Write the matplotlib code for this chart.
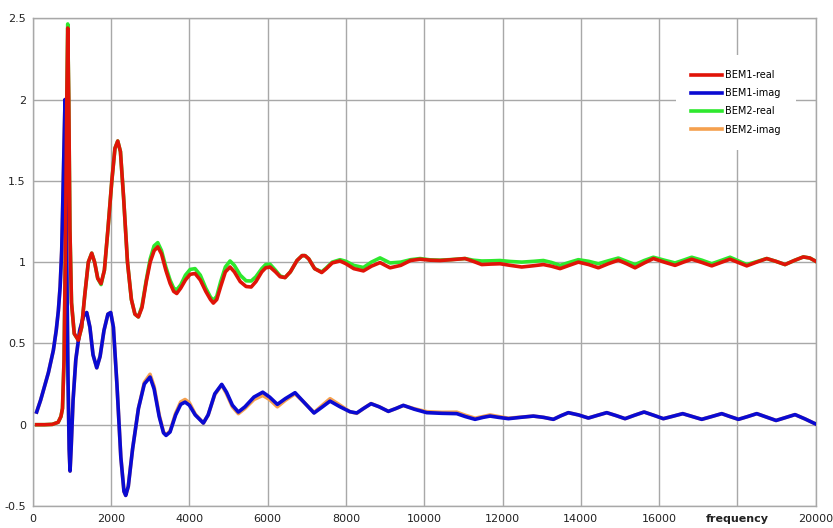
import matplotlib.pyplot as plt

# frequency grid + values (real parts)
freq_real = [100, 300, 500, 650, 720, 760, 800, 840, 870, 894, 920, 950, 990, 1060, 1165,
             1250, 1330, 1420, 1507, 1580, 1660, 1745, 1830, 1920, 2020, 2100, 2171, 2240,
             2320, 2420, 2520, 2610, 2698, 2790, 2900, 3000, 3100, 3193, 3290, 3400, 3507,
             3600, 3678, 3780, 3900, 4020, 4146, 4280, 4420, 4540, 4613, 4700, 4800, 4920,
             5040, 5150, 5300, 5450, 5580, 5700, 5850, 5950, 6061, 6200, 6320, 6444, 6580,
             6750, 6880, 6955, 7050, 7200, 7381, 7500, 7650, 7849, 8000, 8200, 8446, 8650,
             8871, 9126, 9400, 9650, 9893, 10150, 10404, 10700, 11042, 11250, 11468, 11700,
             11936, 12200, 12490, 12800, 13043, 13250, 13469, 13700, 13936, 14200, 14447,
             14700, 14958, 15170, 15384, 15620, 15852, 16130, 16406, 16620, 16832, 17090,
             17343, 17580, 17811, 18020, 18237, 18490, 18748, 18980, 19215, 19450, 19683,
             19850, 20000]
bem1_real = [0.0, 0.0, 0.002, 0.015, 0.05, 0.1, 0.4, 1.2, 2.0, 2.44, 2.0, 1.2, 0.75, 0.56, 0.52,
             0.6, 0.8, 1.0, 1.055, 1.0, 0.9, 0.868, 0.95, 1.2, 1.5, 1.7, 1.745, 1.68,
             1.4, 1.0, 0.77, 0.68, 0.663, 0.72, 0.88, 1.0, 1.07, 1.094, 1.05, 0.95, 0.87,
             0.82, 0.807, 0.84, 0.89, 0.925, 0.93, 0.89, 0.82, 0.77, 0.748, 0.77, 0.85, 0.94,
             0.97, 0.94, 0.88, 0.85, 0.847, 0.88, 0.94, 0.965, 0.97, 0.94, 0.91, 0.905, 0.94,
             1.01, 1.04, 1.04, 1.02, 0.96, 0.936, 0.96, 0.995, 1.007, 0.99, 0.96, 0.946, 0.975,
             0.997, 0.965, 0.98, 1.01, 1.018, 1.012, 1.01, 1.015, 1.022, 1.005, 0.985, 0.988,
             0.99, 0.98, 0.97, 0.978, 0.985, 0.975, 0.96, 0.98, 1.0, 0.985, 0.965,
             0.99, 1.012, 0.99, 0.965, 0.995, 1.022, 1.0, 0.98, 1.0, 1.018, 0.998,
             0.977, 0.998, 1.018, 0.998, 0.977, 1.0, 1.022, 1.005, 0.985, 1.01, 1.032,
             1.025, 1.005]
bem2_real = [0.0, 0.0, 0.002, 0.015, 0.05, 0.1, 0.4, 1.2, 2.0, 2.465, 2.0, 1.2, 0.75, 0.56, 0.52,
             0.6, 0.8, 1.0, 1.055, 1.0, 0.9, 0.862, 0.95, 1.2, 1.5, 1.7, 1.745, 1.68,
             1.4, 1.0, 0.77, 0.68, 0.663, 0.73, 0.89, 1.02, 1.1, 1.12, 1.07, 0.97, 0.89,
             0.84, 0.83, 0.86, 0.92, 0.955, 0.96, 0.92, 0.84, 0.785, 0.765, 0.79, 0.88, 0.97,
             1.007, 0.98, 0.92, 0.885, 0.884, 0.91, 0.96, 0.985, 0.987, 0.95, 0.915, 0.905, 0.94,
             1.01, 1.04, 1.04, 1.02, 0.96, 0.94, 0.965, 1.0, 1.015, 1.005, 0.98, 0.967, 1.0,
             1.026, 0.995, 1.0, 1.015, 1.022, 1.014, 1.012, 1.016, 1.022, 1.012, 1.007, 1.008,
             1.01, 1.004, 1.0, 1.005, 1.01, 0.998, 0.98, 0.998, 1.015, 1.005, 0.99,
             1.008, 1.025, 1.005, 0.985, 1.01, 1.03, 1.012, 0.995, 1.012, 1.03, 1.012,
             0.99, 1.01, 1.03, 1.008, 0.985, 1.003, 1.022, 1.005, 0.985, 1.01, 1.032,
             1.025, 1.005]

# imaginary parts
freq_imag = [100, 200, 271, 400, 526, 600, 654, 700, 740, 780, 825, 860, 900, 930, 953, 980,
             1030, 1100, 1200, 1300, 1379, 1460, 1540, 1635, 1720, 1820, 1920, 1992, 2060,
             2150, 2250, 2330, 2375, 2440, 2550, 2700, 2850, 2996, 3100, 3230, 3340, 3405,
             3507, 3650, 3780, 3890, 4000, 4150, 4358, 4480, 4650, 4827, 4950, 5100, 5252,
             5420, 5650, 5875, 6050, 6248, 6450, 6700, 6920, 7185, 7400, 7594, 7850, 8100,
             8276, 8450, 8641, 8850, 9083, 9280, 9466, 9750, 10064, 10450, 10830, 11050,
             11298, 11500, 11681, 11900, 12149, 12450, 12787, 13050, 13298, 13490, 13681,
             13940, 14192, 14430, 14661, 14900, 15129, 15370, 15615, 15860, 16107, 16350,
             16602, 16850, 17088, 17340, 17599, 17810, 18024, 18260, 18493, 18740, 18986,
             19230, 19471, 19730, 19983]
bem1_imag = [0.078, 0.15, 0.21, 0.32, 0.457, 0.58, 0.7, 0.85, 1.07, 1.5, 2.0, 1.2, 0.3, -0.15, -0.285, -0.15,
             0.15, 0.4, 0.58, 0.67, 0.69, 0.6, 0.43, 0.35, 0.42, 0.58, 0.68, 0.69, 0.6,
             0.25, -0.2, -0.41, -0.435, -0.38, -0.15, 0.1, 0.25, 0.293, 0.22, 0.05, -0.05, -0.066,
             -0.045, 0.06, 0.125, 0.139, 0.12, 0.06, 0.01, 0.06, 0.19, 0.248, 0.2, 0.12, 0.078,
             0.11, 0.17, 0.2, 0.17, 0.125, 0.16, 0.197, 0.14, 0.072, 0.11, 0.145, 0.11, 0.08,
             0.072, 0.1, 0.129, 0.11, 0.082, 0.1, 0.119, 0.095, 0.074, 0.07, 0.068, 0.05,
             0.033, 0.045, 0.053, 0.045, 0.037, 0.045, 0.053, 0.045, 0.033, 0.055, 0.074,
             0.06, 0.041, 0.058, 0.074, 0.056, 0.037, 0.058, 0.078, 0.058, 0.037, 0.052,
             0.068, 0.05, 0.033, 0.05, 0.068, 0.05, 0.033, 0.05, 0.068, 0.047, 0.026,
             0.044, 0.062, 0.035, 0.006]
bem2_imag = [0.078, 0.15, 0.21, 0.32, 0.457, 0.58, 0.7, 0.85, 1.07, 1.5, 2.0, 1.2, 0.3, -0.15, -0.285, -0.15,
             0.15, 0.4, 0.58, 0.67, 0.69, 0.6, 0.43, 0.35, 0.42, 0.58, 0.68, 0.69, 0.6,
             0.25, -0.2, -0.41, -0.435, -0.38, -0.15, 0.1, 0.26, 0.31, 0.235, 0.06, -0.045, -0.062,
             -0.04, 0.07, 0.14, 0.155, 0.135, 0.065, 0.01, 0.06, 0.185, 0.245, 0.19, 0.11, 0.068,
             0.1, 0.155, 0.18, 0.155, 0.11, 0.15, 0.19, 0.14, 0.075, 0.12, 0.16, 0.12, 0.08,
             0.07, 0.1, 0.13, 0.11, 0.082, 0.1, 0.118, 0.098, 0.08, 0.076, 0.077, 0.058,
             0.04, 0.05, 0.06, 0.05, 0.04, 0.046, 0.053, 0.045, 0.033, 0.055, 0.074,
             0.06, 0.041, 0.058, 0.074, 0.056, 0.037, 0.058, 0.078, 0.058, 0.037, 0.052,
             0.068, 0.05, 0.033, 0.05, 0.068, 0.05, 0.033, 0.05, 0.068, 0.047, 0.026,
             0.044, 0.062, 0.035, 0.006]

x_ticks = [0, 2000, 4000, 6000, 8000, 10000, 12000, 14000, 16000, 18000, 20000]
x_tick_labels = ['0', '2000', '4000', '6000', '8000', '10000', '12000', '14000', '16000',
                 'frequency', '20000']
y_ticks = [-0.5, 0, 0.5, 1, 1.5, 2, 2.5]
y_tick_labels = ['-0.5', '0', '0.5', '1', '1.5', '2', '2.5']

fig = plt.figure(figsize=(8.33, 5.28), dpi=100)
ax = fig.add_axes([0.0393, 0.0417, 0.94, 0.9237])

lw = 2.6
l_g, = ax.plot(freq_real, bem2_real, color='#2ee82e', lw=lw, label='BEM2-real', zorder=3)
l_o, = ax.plot(freq_imag, bem2_imag, color='#f5a04e', lw=lw, label='BEM2-imag', zorder=3)
l_b, = ax.plot(freq_imag, bem1_imag, color='#0a0ad2', lw=lw, label='BEM1-imag', zorder=4)
l_r, = ax.plot(freq_real, bem1_real, color='#e01408', lw=lw, label='BEM1-real', zorder=5)

ax.set_xlim(0, 20000)
ax.set_ylim(-0.5, 2.5)
ax.set_xticks(x_ticks)
ax.set_xticklabels(x_tick_labels)
ax.set_yticks(y_ticks)
ax.set_yticklabels(y_tick_labels)
ax.tick_params(length=0, labelsize=8, colors='#222222')
ax.tick_params(axis='x', pad=6)
ax.tick_params(axis='y', pad=5)
ax.get_xticklabels()[9].set_fontweight('bold')

ax.grid(True, color='#a8a8a8', lw=1.0)
ax.set_axisbelow(True)
for s in ax.spines.values():
    s.set_color('#a8a8a8')
    s.set_linewidth(1.0)

leg = ax.legend(handles=[l_r, l_b, l_g, l_o], loc='upper left', bbox_to_anchor=(0.822, 0.925),
                frameon=True, fontsize=7, handlelength=3.1, handletextpad=0.35,
                labelspacing=0.85, borderpad=1.55, borderaxespad=0)
leg.get_frame().set_edgecolor('none')
leg.get_frame().set_facecolor('white')
leg.get_frame().set_alpha(1)
leg.get_frame().set_boxstyle('square', pad=0)
for line in leg.get_lines():
    line.set_linewidth(2.6)

fig.savefig('out.png', dpi=100)
